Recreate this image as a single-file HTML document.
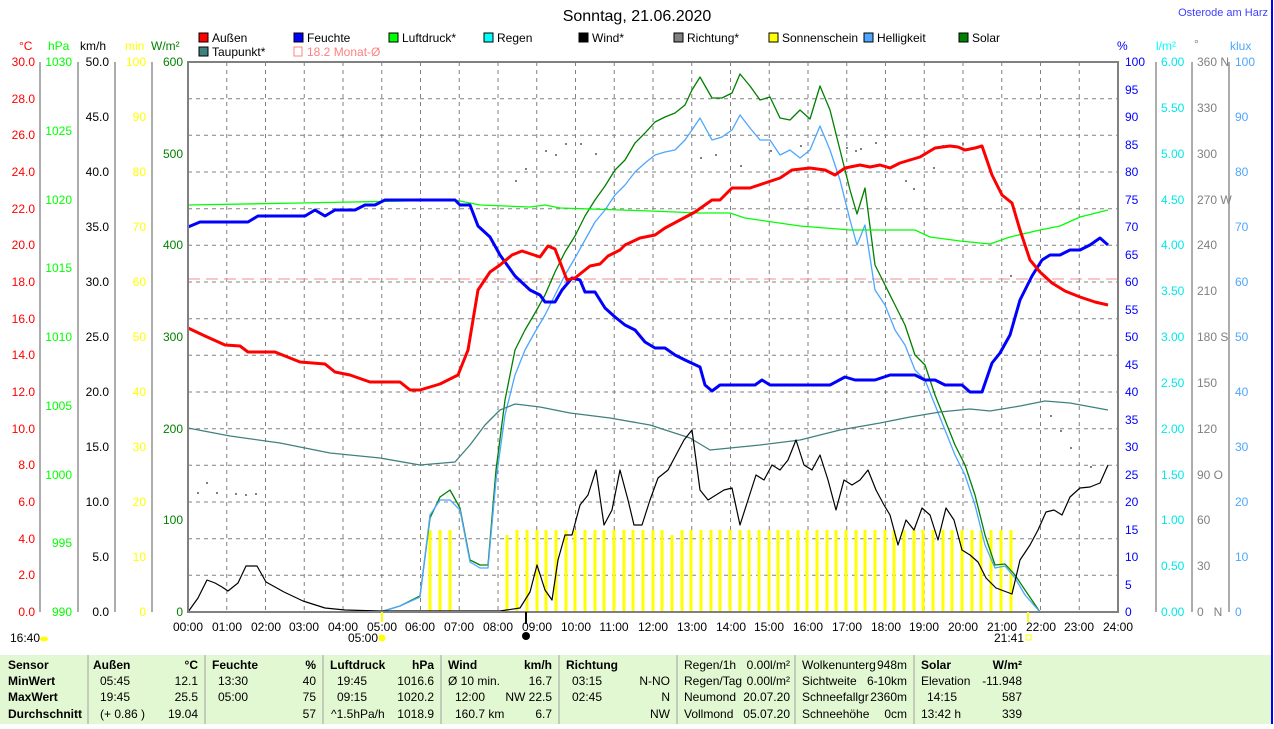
<!DOCTYPE html>
<html><head><meta charset="utf-8"><style>
body{margin:0;background:#fff;width:1274px;height:724px;overflow:hidden;font-family:"Liberation Sans",sans-serif}
svg text{font-family:"Liberation Sans",sans-serif;font-size:12px}
</style></head><body>
<svg width="1274" height="724" viewBox="0 0 1274 724" xmlns="http://www.w3.org/2000/svg">
<rect width="1274" height="724" fill="#fff"/>
<line x1="1272" y1="0" x2="1272" y2="724" stroke="#0000ff" stroke-width="2"/>
<text x="637" y="21" text-anchor="middle" style="font-size:16px" fill="#000">Sonntag, 21.06.2020</text>
<text x="1268" y="16" text-anchor="end" fill="#4040ff" style="font-size:11px">Osterode am Harz</text>

<!-- legend -->
<g style="font-size:11px">
<rect x="199" y="33" width="9" height="9" fill="#ff0000" stroke="#000"/><text x="212" y="42">Außen</text>
<rect x="294" y="33" width="9" height="9" fill="#0000ff" stroke="#000"/><text x="307" y="42">Feuchte</text>
<rect x="389" y="33" width="9" height="9" fill="#00ff00" stroke="#000"/><text x="402" y="42">Luftdruck*</text>
<rect x="484" y="33" width="9" height="9" fill="#00ffff" stroke="#000"/><text x="497" y="42">Regen</text>
<rect x="579" y="33" width="9" height="9" fill="#000" stroke="#000"/><text x="592" y="42">Wind*</text>
<rect x="674" y="33" width="9" height="9" fill="#808080" stroke="#000"/><text x="687" y="42">Richtung*</text>
<rect x="769" y="33" width="9" height="9" fill="#ffff00" stroke="#000"/><text x="782" y="42">Sonnenschein</text>
<rect x="864" y="33" width="9" height="9" fill="#4da6ff" stroke="#000"/><text x="877" y="42">Helligkeit</text>
<rect x="959" y="33" width="9" height="9" fill="#008000" stroke="#000"/><text x="972" y="42">Solar</text>
<rect x="199" y="47" width="9" height="9" fill="#408080" stroke="#000"/><text x="212" y="56">Taupunkt*</text>
<rect x="294" y="47" width="8" height="9" fill="none" stroke="#ff8080"/><text x="307" y="56" fill="#ff8080">18.2 Monat-Ø</text>
</g>

<!-- grid -->
<g stroke="#808080" stroke-dasharray="4,4" stroke-width="1">
<line x1="188" y1="98.7" x2="1118" y2="98.7"/><line x1="188" y1="135.3" x2="1118" y2="135.3"/><line x1="188" y1="172" x2="1118" y2="172"/><line x1="188" y1="208.7" x2="1118" y2="208.7"/><line x1="188" y1="245.3" x2="1118" y2="245.3"/><line x1="188" y1="282" x2="1118" y2="282"/><line x1="188" y1="318.7" x2="1118" y2="318.7"/><line x1="188" y1="355.3" x2="1118" y2="355.3"/><line x1="188" y1="392" x2="1118" y2="392"/><line x1="188" y1="428.7" x2="1118" y2="428.7"/><line x1="188" y1="465.3" x2="1118" y2="465.3"/><line x1="188" y1="502" x2="1118" y2="502"/><line x1="188" y1="538.7" x2="1118" y2="538.7"/><line x1="188" y1="575.3" x2="1118" y2="575.3"/>
<line x1="226.75" y1="62" x2="226.75" y2="612"/><line x1="265.5" y1="62" x2="265.5" y2="612"/><line x1="304.25" y1="62" x2="304.25" y2="612"/><line x1="343" y1="62" x2="343" y2="612"/><line x1="381.75" y1="62" x2="381.75" y2="612"/><line x1="420.5" y1="62" x2="420.5" y2="612"/><line x1="459.25" y1="62" x2="459.25" y2="612"/><line x1="498" y1="62" x2="498" y2="612"/><line x1="536.75" y1="62" x2="536.75" y2="612"/><line x1="575.5" y1="62" x2="575.5" y2="612"/><line x1="614.25" y1="62" x2="614.25" y2="612"/><line x1="653" y1="62" x2="653" y2="612"/><line x1="691.75" y1="62" x2="691.75" y2="612"/><line x1="730.5" y1="62" x2="730.5" y2="612"/><line x1="769.25" y1="62" x2="769.25" y2="612"/><line x1="808" y1="62" x2="808" y2="612"/><line x1="846.75" y1="62" x2="846.75" y2="612"/><line x1="885.5" y1="62" x2="885.5" y2="612"/><line x1="924.25" y1="62" x2="924.25" y2="612"/><line x1="963" y1="62" x2="963" y2="612"/><line x1="1001.75" y1="62" x2="1001.75" y2="612"/><line x1="1040.5" y1="62" x2="1040.5" y2="612"/><line x1="1079.25" y1="62" x2="1079.25" y2="612"/>
</g>
<line x1="188" y1="279" x2="1118" y2="279" stroke="#f09090" stroke-dasharray="12,6"/>

<!-- sunshine bars -->
<g stroke="#ffff00" stroke-width="3">
<line x1="430" y1="530" x2="430" y2="612"/><line x1="440" y1="530" x2="440" y2="612"/><line x1="450" y1="530" x2="450" y2="612"/>
<line x1="507" y1="535" x2="507" y2="612"/><line x1="517" y1="530" x2="517" y2="612"/><line x1="527" y1="530" x2="527" y2="612"/><line x1="537" y1="530" x2="537" y2="612"/><line x1="546" y1="530" x2="546" y2="612"/><line x1="556" y1="530" x2="556" y2="612"/><line x1="566" y1="530" x2="566" y2="612"/><line x1="575" y1="530" x2="575" y2="612"/><line x1="585" y1="530" x2="585" y2="612"/><line x1="595" y1="530" x2="595" y2="612"/><line x1="604" y1="530" x2="604" y2="612"/><line x1="614" y1="530" x2="614" y2="612"/><line x1="624" y1="530" x2="624" y2="612"/><line x1="633" y1="530" x2="633" y2="612"/><line x1="643" y1="530" x2="643" y2="612"/><line x1="653" y1="530" x2="653" y2="612"/><line x1="662" y1="530" x2="662" y2="612"/><line x1="672" y1="535" x2="672" y2="612"/><line x1="682" y1="530" x2="682" y2="612"/><line x1="691" y1="530" x2="691" y2="612"/><line x1="701" y1="530" x2="701" y2="612"/><line x1="711" y1="530" x2="711" y2="612"/><line x1="720" y1="530" x2="720" y2="612"/><line x1="730" y1="530" x2="730" y2="612"/><line x1="740" y1="530" x2="740" y2="612"/><line x1="749" y1="530" x2="749" y2="612"/><line x1="759" y1="530" x2="759" y2="612"/><line x1="769" y1="530" x2="769" y2="612"/><line x1="778" y1="530" x2="778" y2="612"/><line x1="788" y1="530" x2="788" y2="612"/><line x1="798" y1="530" x2="798" y2="612"/><line x1="807" y1="530" x2="807" y2="612"/><line x1="817" y1="530" x2="817" y2="612"/><line x1="827" y1="530" x2="827" y2="612"/><line x1="836" y1="530" x2="836" y2="612"/><line x1="846" y1="530" x2="846" y2="612"/><line x1="856" y1="530" x2="856" y2="612"/><line x1="865" y1="530" x2="865" y2="612"/><line x1="875" y1="530" x2="875" y2="612"/><line x1="885" y1="530" x2="885" y2="612"/><line x1="894" y1="530" x2="894" y2="612"/><line x1="904" y1="530" x2="904" y2="612"/><line x1="914" y1="530" x2="914" y2="612"/><line x1="923" y1="530" x2="923" y2="612"/><line x1="933" y1="530" x2="933" y2="612"/><line x1="943" y1="530" x2="943" y2="612"/><line x1="952" y1="530" x2="952" y2="612"/><line x1="962" y1="530" x2="962" y2="612"/><line x1="972" y1="530" x2="972" y2="612"/><line x1="981" y1="530" x2="981" y2="612"/><line x1="991" y1="530" x2="991" y2="612"/><line x1="1001" y1="530" x2="1001" y2="612"/><line x1="1011" y1="530" x2="1011" y2="612"/>
</g>

<!-- direction dots -->
<g fill="#808080">
<rect x="197" y="492" width="2" height="2"/><rect x="206" y="482" width="2" height="2"/><rect x="216" y="492" width="2" height="2"/><rect x="235" y="493" width="2" height="2"/><rect x="245" y="494" width="2" height="2"/><rect x="255" y="493" width="2" height="2"/>
<rect x="515" y="180" width="2" height="2"/><rect x="525" y="168" width="2" height="2"/><rect x="545" y="150" width="2" height="2"/><rect x="555" y="154" width="2" height="2"/><rect x="565" y="143" width="2" height="2"/><rect x="580" y="143" width="2" height="2"/><rect x="595" y="153" width="2" height="2"/>
<rect x="700" y="157" width="2" height="2"/><rect x="715" y="154" width="2" height="2"/><rect x="740" y="165" width="2" height="2"/><rect x="770" y="150" width="2" height="2"/><rect x="800" y="145" width="2" height="2"/><rect x="846" y="147" width="2" height="2"/><rect x="860" y="148" width="2" height="2"/><rect x="875" y="142" width="2" height="2"/>
<rect x="846" y="147" width="2" height="2"/><rect x="855" y="150" width="2" height="2"/><rect x="905" y="180" width="2" height="2"/><rect x="913" y="188" width="2" height="2"/><rect x="933" y="167" width="2" height="2"/><rect x="942" y="145" width="2" height="2"/><rect x="962" y="143" width="2" height="2"/><rect x="1010" y="275" width="2" height="2"/><rect x="1050" y="415" width="2" height="2"/><rect x="1060" y="430" width="2" height="2"/><rect x="1070" y="447" width="2" height="2"/><rect x="1090" y="466" width="2" height="2"/>
</g>

<g fill="none" stroke-linejoin="round">
<!-- solar -->
<polyline stroke="#008000" stroke-width="1.3" points="188,612 380,612 400,606 420,596 430,518 440,497 450,490 460,508 470,560 480,565 488,565 496,470 505,400 515,350 525,330 535,313 545,295 555,272 565,252 575,236 585,216 595,200 605,186 615,170 625,160 635,143 645,133 655,122 665,117 675,113 685,105 692,90 700,77 712,98 722,98 732,93 740,74 750,86 760,100 770,97 780,118 790,120 800,110 810,119 820,86 830,110 840,150 850,190 857,214 865,188 875,265 885,285 895,305 905,325 915,355 925,365 935,395 945,420 955,445 965,465 975,495 985,535 995,565 1005,564 1015,575 1025,590 1040,612 1108,612"/>
<!-- helligkeit -->
<polyline stroke="#4da6ff" stroke-width="1.3" points="188,612 380,612 400,606 420,597 430,515 440,500 450,500 460,510 470,562 480,568 488,568 496,480 505,415 515,375 525,350 535,332 545,315 555,295 565,275 575,258 585,240 595,222 605,210 615,195 625,185 635,172 645,163 655,155 665,152 675,150 685,140 692,130 700,118 712,140 722,137 732,130 740,115 750,128 760,140 770,140 780,155 790,150 800,158 810,150 820,126 830,150 840,180 850,220 857,245 865,225 875,290 885,305 895,330 905,345 915,370 925,380 935,405 945,430 955,455 965,475 975,505 985,545 995,568 1005,566 1015,578 1025,595 1040,612"/>
<!-- dewpoint -->
<polyline stroke="#408080" stroke-width="1.3" points="188,428 230,436 280,443 330,453 380,458 420,465 455,462 470,445 485,425 500,410 515,404 540,407 570,413 610,418 650,425 690,438 710,450 760,445 800,440 840,430 880,423 910,417 940,412 970,409 990,411 1020,406 1045,401 1070,403 1108,410"/>
<!-- pressure -->
<polyline stroke="#00ff00" stroke-width="1.3" points="188,205 300,203 455,200 480,205 530,207 545,205 560,208 650,211 700,213 730,213 745,218 800,226 850,230 915,230 930,237 960,241 990,244 1010,237 1040,230 1060,226 1080,217 1108,210"/>
<!-- wind -->
<polyline stroke="#000" stroke-width="1.2" points="188,612 198,598 207,580 215,583 222,587 228,591 238,583 246,566 257,566 266,582 284,592 303,601 325,608 345,610 380,611 500,611 520,608 530,592 537,565 545,590 552,600 558,560 565,535 572,535 580,505 588,495 596,470 604,525 612,510 620,470 628,500 634,525 642,525 650,500 658,478 668,470 676,455 684,440 692,430 700,490 708,500 716,495 724,490 732,488 740,525 748,500 756,475 764,480 772,465 780,470 788,460 796,440 804,465 812,470 820,455 828,480 836,510 844,480 852,485 860,480 868,470 876,490 884,505 890,515 898,545 906,520 914,530 922,508 930,515 938,540 946,508 954,520 962,550 970,555 978,562 986,578 996,588 1012,594 1020,560 1030,545 1038,530 1046,512 1054,510 1062,515 1070,497 1080,488 1090,487 1100,483 1108,465"/>
<!-- humidity -->
<polyline stroke="#0000ff" stroke-width="3" points="188,227 200,222 248,222 258,216 305,216 315,210 325,216 335,210 355,210 365,205 375,205 385,200 455,200 460,205 470,205 478,226 490,237 500,255 515,276 530,290 540,295 545,302 555,302 562,290 572,278 580,280 585,292 595,292 605,308 615,317 625,325 635,330 645,342 655,348 665,348 675,355 685,360 700,367 705,385 712,391 720,385 730,385 755,385 762,380 770,385 830,385 845,377 855,380 875,380 890,375 915,375 925,380 935,380 945,385 962,385 970,392 982,392 992,363 1000,353 1010,335 1020,300 1032,276 1042,260 1050,255 1060,255 1070,250 1080,250 1090,245 1100,238 1108,245"/>
<!-- temperature -->
<polyline stroke="#ff0000" stroke-width="3" points="188,328 205,336 225,345 240,346 248,352 275,352 285,356 300,362 325,364 335,372 350,375 370,382 400,382 410,390 420,390 440,384 458,375 468,350 478,290 490,272 500,265 512,255 522,251 540,257 548,246 555,249 567,280 575,278 590,266 600,264 608,256 620,250 625,245 640,238 655,235 665,228 680,220 695,212 712,200 720,200 732,188 750,188 765,183 780,178 792,170 810,168 825,170 835,175 845,168 860,165 870,167 880,165 890,168 900,163 920,157 935,148 950,146 958,147 965,150 975,148 982,146 992,175 1002,195 1012,203 1020,230 1030,260 1040,272 1052,283 1065,291 1080,297 1095,302 1108,305"/>
</g>

<!-- frame -->
<rect x="188" y="62" width="930" height="550" fill="none" stroke="#808080" stroke-width="2"/>

<!-- left axes -->
<g stroke="#808080" stroke-width="1.3">
<line x1="40" y1="62" x2="40" y2="612"/><line x1="78" y1="62" x2="78" y2="612"/><line x1="115" y1="62" x2="115" y2="612"/><line x1="152" y1="62" x2="152" y2="612"/>
<line x1="1156" y1="62" x2="1156" y2="612"/><line x1="1192" y1="62" x2="1192" y2="612"/><line x1="1229" y1="62" x2="1229" y2="612"/>
</g>
<g style="font-size:11px">
<text x="19" y="50" fill="#ff0000">°C</text><text x="48" y="50" fill="#00ff00">hPa</text><text x="80" y="50">km/h</text><text x="125" y="50" fill="#ffff00">min</text><text x="151" y="50" fill="#008000">W/m²</text>
<text x="1117" y="50" fill="#0000ff">%</text><text x="1156" y="50" fill="#00ffff">l/m²</text><text x="1194" y="48" fill="#808080">°</text><text x="1230" y="50" fill="#4da6ff">klux</text>
</g>
<g fill="#ff0000" text-anchor="end">
<text x="35" y="66">30.0</text><text x="35" y="103">28.0</text><text x="35" y="139">26.0</text><text x="35" y="176">24.0</text><text x="35" y="213">22.0</text><text x="35" y="249">20.0</text><text x="35" y="286">18.0</text><text x="35" y="323">16.0</text><text x="35" y="359">14.0</text><text x="35" y="396">12.0</text><text x="35" y="433">10.0</text><text x="35" y="469">8.0</text><text x="35" y="506">6.0</text><text x="35" y="543">4.0</text><text x="35" y="579">2.0</text><text x="35" y="616">0.0</text>
</g>
<g fill="#00ff00" text-anchor="end">
<text x="72" y="66">1030</text><text x="72" y="135">1025</text><text x="72" y="204">1020</text><text x="72" y="272">1015</text><text x="72" y="341">1010</text><text x="72" y="410">1005</text><text x="72" y="479">1000</text><text x="72" y="547">995</text><text x="72" y="616">990</text>
</g>
<g fill="#000" text-anchor="end">
<text x="109" y="66">50.0</text><text x="109" y="121">45.0</text><text x="109" y="176">40.0</text><text x="109" y="231">35.0</text><text x="109" y="286">30.0</text><text x="109" y="341">25.0</text><text x="109" y="396">20.0</text><text x="109" y="451">15.0</text><text x="109" y="506">10.0</text><text x="109" y="561">5.0</text><text x="109" y="616">0.0</text>
</g>
<g fill="#ffff00" text-anchor="end">
<text x="146" y="66">100</text><text x="146" y="121">90</text><text x="146" y="176">80</text><text x="146" y="231">70</text><text x="146" y="286">60</text><text x="146" y="341">50</text><text x="146" y="396">40</text><text x="146" y="451">30</text><text x="146" y="506">20</text><text x="146" y="561">10</text><text x="146" y="616">0</text>
</g>
<g fill="#008000" text-anchor="end">
<text x="183" y="66">600</text><text x="183" y="158">500</text><text x="183" y="249">400</text><text x="183" y="341">300</text><text x="183" y="433">200</text><text x="183" y="524">100</text><text x="183" y="616">0</text>
</g>
<g fill="#0000ff">
<text x="1125" y="66">100</text><text x="1125" y="94">95</text><text x="1125" y="121">90</text><text x="1125" y="149">85</text><text x="1125" y="176">80</text><text x="1125" y="204">75</text><text x="1125" y="231">70</text><text x="1125" y="259">65</text><text x="1125" y="286">60</text><text x="1125" y="314">55</text><text x="1125" y="341">50</text><text x="1125" y="369">45</text><text x="1125" y="396">40</text><text x="1125" y="424">35</text><text x="1125" y="451">30</text><text x="1125" y="479">25</text><text x="1125" y="506">20</text><text x="1125" y="534">15</text><text x="1125" y="561">10</text><text x="1125" y="589">5</text><text x="1125" y="616">0</text>
</g>
<g fill="#00e8e8">
<text x="1161" y="66">6.00</text><text x="1161" y="112">5.50</text><text x="1161" y="158">5.00</text><text x="1161" y="204">4.50</text><text x="1161" y="249">4.00</text><text x="1161" y="295">3.50</text><text x="1161" y="341">3.00</text><text x="1161" y="387">2.50</text><text x="1161" y="433">2.00</text><text x="1161" y="479">1.50</text><text x="1161" y="524">1.00</text><text x="1161" y="570">0.50</text><text x="1161" y="616">0.00</text>
</g>
<g fill="#808080">
<text x="1197" y="66">360 N</text><text x="1197" y="112">330</text><text x="1197" y="158">300</text><text x="1197" y="204">270 W</text><text x="1197" y="249">240</text><text x="1197" y="295">210</text><text x="1197" y="341">180 S</text><text x="1197" y="387">150</text><text x="1197" y="433">120</text><text x="1197" y="479">90 O</text><text x="1197" y="524">60</text><text x="1197" y="570">30</text><text x="1197" y="616">0 &#160; N</text>
</g>
<g fill="#4da6ff">
<text x="1235" y="66">100</text><text x="1235" y="121">90</text><text x="1235" y="176">80</text><text x="1235" y="231">70</text><text x="1235" y="286">60</text><text x="1235" y="341">50</text><text x="1235" y="396">40</text><text x="1235" y="451">30</text><text x="1235" y="506">20</text><text x="1235" y="561">10</text><text x="1235" y="616">0</text>
</g>

<!-- x labels -->
<g text-anchor="middle">
<text x="188" y="631">00:00</text><text x="227" y="631">01:00</text><text x="266" y="631">02:00</text><text x="304" y="631">03:00</text><text x="343" y="631">04:00</text><text x="382" y="631">05:00</text><text x="420" y="631">06:00</text><text x="459" y="631">07:00</text><text x="498" y="631">08:00</text><text x="537" y="631">09:00</text><text x="576" y="631">10:00</text><text x="614" y="631">11:00</text><text x="653" y="631">12:00</text><text x="692" y="631">13:00</text><text x="731" y="631">14:00</text><text x="769" y="631">15:00</text><text x="808" y="631">16:00</text><text x="847" y="631">17:00</text><text x="886" y="631">18:00</text><text x="924" y="631">19:00</text><text x="963" y="631">20:00</text><text x="1002" y="631">21:00</text><text x="1041" y="631">22:00</text><text x="1079" y="631">23:00</text><text x="1118" y="631">24:00</text>
</g>
<text x="10" y="642">16:40</text><ellipse cx="44" cy="639" rx="4" ry="2.5" fill="#ffff00"/>
<text x="348" y="642">05:00</text><circle cx="382" cy="638" r="3.5" fill="#ffff00"/>
<line x1="382" y1="612" x2="382" y2="622" stroke="#ffff00" stroke-width="2"/>
<line x1="1028" y1="612" x2="1028" y2="622" stroke="#ffff00" stroke-width="2"/>
<text x="994" y="642">21:41</text><rect x="1026" y="635" width="5" height="5" fill="none" stroke="#ffff00"/>
<line x1="526" y1="612" x2="526" y2="624" stroke="#000" stroke-width="2"/><circle cx="526" cy="636" r="4" fill="#000"/>

<!-- table -->
<rect x="0" y="655" width="1271" height="69" fill="#e2f8d2"/>
<g stroke="#a0a0a0" stroke-width="1">
<line x1="88" y1="655" x2="88" y2="724"/><line x1="205" y1="655" x2="205" y2="724"/><line x1="323" y1="655" x2="323" y2="724"/><line x1="441" y1="655" x2="441" y2="724"/><line x1="559" y1="655" x2="559" y2="724"/><line x1="677" y1="655" x2="677" y2="724"/><line x1="795" y1="655" x2="795" y2="724"/><line x1="914" y1="655" x2="914" y2="724"/>
</g>
<g style="font-size:12px;font-weight:bold">
<text x="8" y="669">Sensor</text><text x="8" y="685">MinWert</text><text x="8" y="701">MaxWert</text><text x="8" y="718">Durchschnitt</text>
<text x="93" y="669">Außen</text><text x="198" y="669" text-anchor="end">°C</text>
<text x="212" y="669">Feuchte</text><text x="316" y="669" text-anchor="end">%</text>
<text x="330" y="669">Luftdruck</text><text x="434" y="669" text-anchor="end">hPa</text>
<text x="448" y="669">Wind</text><text x="552" y="669" text-anchor="end">km/h</text>
<text x="566" y="669">Richtung</text>
<text x="921" y="669">Solar</text><text x="1022" y="669" text-anchor="end">W/m²</text>
</g>
<g style="font-size:12px">
<text x="100" y="685">05:45</text><text x="198" y="685" text-anchor="end">12.1</text>
<text x="100" y="701">19:45</text><text x="198" y="701" text-anchor="end">25.5</text>
<text x="100" y="718">(+ 0.86 )</text><text x="198" y="718" text-anchor="end">19.04</text>
<text x="218" y="685">13:30</text><text x="316" y="685" text-anchor="end">40</text>
<text x="218" y="701">05:00</text><text x="316" y="701" text-anchor="end">75</text>
<text x="316" y="718" text-anchor="end">57</text>
<text x="337" y="685">19:45</text><text x="434" y="685" text-anchor="end">1016.6</text>
<text x="337" y="701">09:15</text><text x="434" y="701" text-anchor="end">1020.2</text>
<text x="331" y="718">^1.5hPa/h</text><text x="434" y="718" text-anchor="end">1018.9</text>
<text x="448" y="685">Ø 10 min.</text><text x="552" y="685" text-anchor="end">16.7</text>
<text x="455" y="701">12:00</text><text x="552" y="701" text-anchor="end">NW 22.5</text>
<text x="455" y="718">160.7 km</text><text x="552" y="718" text-anchor="end">6.7</text>
<text x="572" y="685">03:15</text><text x="670" y="685" text-anchor="end">N-NO</text>
<text x="572" y="701">02:45</text><text x="670" y="701" text-anchor="end">N</text>
<text x="670" y="718" text-anchor="end">NW</text>
<text x="684" y="669">Regen/1h</text><text x="790" y="669" text-anchor="end">0.00l/m²</text>
<text x="684" y="685">Regen/Tag</text><text x="790" y="685" text-anchor="end">0.00l/m²</text>
<text x="684" y="701">Neumond</text><text x="790" y="701" text-anchor="end">20.07.20</text>
<text x="684" y="718">Vollmond</text><text x="790" y="718" text-anchor="end">05.07.20</text>
<text x="802" y="669">Wolkenunterg</text><text x="907" y="669" text-anchor="end">948m</text>
<text x="802" y="685">Sichtweite</text><text x="907" y="685" text-anchor="end">6-10km</text>
<text x="802" y="701">Schneefallgr</text><text x="907" y="701" text-anchor="end">2360m</text>
<text x="802" y="718">Schneehöhe</text><text x="907" y="718" text-anchor="end">0cm</text>
<text x="921" y="685">Elevation</text><text x="1022" y="685" text-anchor="end">-11.948</text>
<text x="927" y="701">14:15</text><text x="1022" y="701" text-anchor="end">587</text>
<text x="921" y="718">13:42 h</text><text x="1022" y="718" text-anchor="end">339</text>
</g>
</svg>
</body></html>
